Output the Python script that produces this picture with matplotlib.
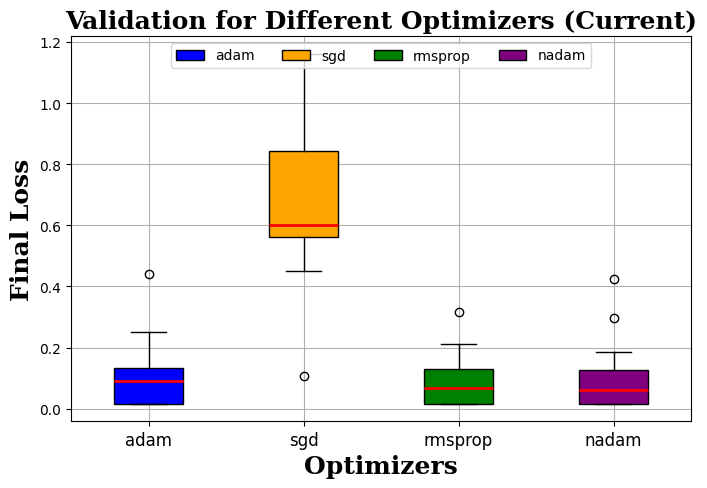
import numpy as np
import matplotlib
matplotlib.use('Agg')
import matplotlib.pyplot as plt
from matplotlib.patches import Patch

## optimizer names and box colours
optimizers = ['adam', 'sgd', 'rmsprop', 'nadam']
colors     = ['blue', 'orange', 'green', 'purple']

## box statistics (final loss)
q1       = [0.017, 0.562, 0.017, 0.017]
med      = [0.090, 0.600, 0.068, 0.061]
q3       = [0.134, 0.842, 0.131, 0.126]
whislo   = [0.017, 0.450, 0.017, 0.017]
whishi   = [0.250, 1.162, 0.211, 0.185]
fliers   = [[0.440], [0.107], [0.316], [0.424, 0.296]]

stats = []
for i in range(len(optimizers)):
    stats.append(dict(label=optimizers[i], q1=q1[i], med=med[i], q3=q3[i],
                      whislo=whislo[i], whishi=whishi[i], fliers=fliers[i]))

fig = plt.figure(figsize=(7.07, 4.89), dpi=100)
ax = fig.add_subplot(1, 1, 1)
fig.subplots_adjust(left=71/707, right=691/707, top=1-37/489, bottom=1-422/489)

bp = ax.bxp(stats, patch_artist=True, widths=0.45,
            medianprops=dict(color='red', linewidth=2))
for patch, c in zip(bp['boxes'], colors):
    patch.set_facecolor(c)
    patch.set_edgecolor('black')

ax.set_xticks(range(1, len(optimizers)+1))
ax.set_xticklabels(optimizers, fontsize=12)
ax.set_title('Validation for Different Optimizers (Current)',
             fontsize=18, fontweight='bold', family='serif')
ax.set_xlabel('Optimizers', fontsize=18, fontweight='bold', family='serif')
ax.set_ylabel('Final Loss', fontsize=18, fontweight='bold', family='serif')
ax.grid(True)

handles = [Patch(facecolor=c, edgecolor='black', label=n) for n, c in zip(optimizers, colors)]
ax.legend(handles=handles, loc='upper center', ncol=4)

fig.savefig('out.png')
